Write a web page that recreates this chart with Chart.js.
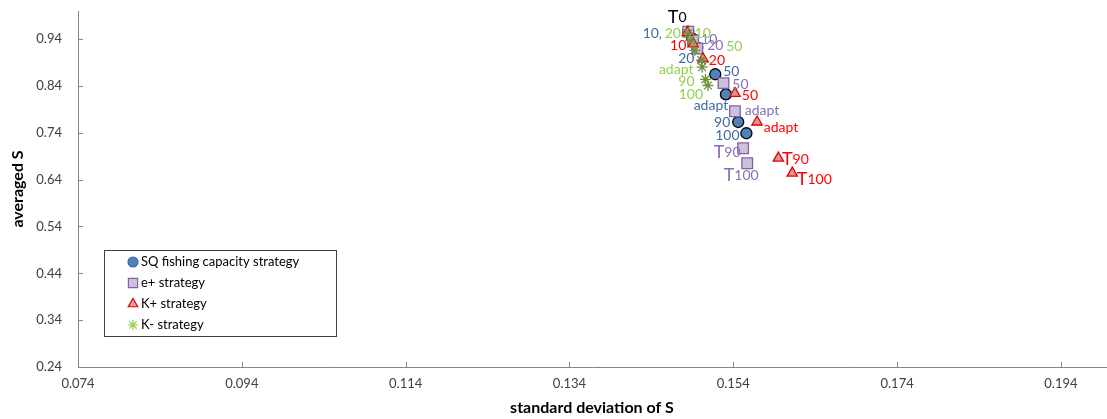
<!DOCTYPE html>
<html>
<head>
<meta charset="utf-8">
<script src="https://cdn.jsdelivr.net/npm/chart.js@4.4.1/dist/chart.umd.min.js"></script>
<style>
  html, body { margin: 0; padding: 0; background: #fff; }
  canvas { display: block; }
</style>
</head>
<body>
<canvas id="c" width="1107" height="419"></canvas>
<script>
// ---- Data ----
const xTickValues = [0.074, 0.094, 0.114, 0.134, 0.154, 0.174, 0.194];
const xTickLabels = ['0.074', '0.094', '0.114', '0.134', '0.154', '0.174', '0.194'];
const yTickValues = [0.24, 0.34, 0.44, 0.54, 0.64, 0.74, 0.84, 0.94];
const yTickLabels = ['0.24', '0.34', '0.44', '0.54', '0.64', '0.74', '0.84', '0.94'];

const seriesNames = ['SQ fishing capacity strategy', 'e+ strategy', 'K+ strategy', 'K- strategy'];

// order of points: T0, 10, 20, 50, adapt, 90, 100
const sqX = [0.1485, 0.1490, 0.1496, 0.1518, 0.1531, 0.1546, 0.1556];
const sqY = [0.956, 0.941, 0.922, 0.865, 0.822, 0.763, 0.739];
const sqLabels = ['T0', '10,', '20', '50', 'adapt', '90', '100'];

const ePlusX = [0.1485, 0.1491, 0.1496, 0.1528, 0.1542, 0.1552, 0.1557];
const ePlusY = [0.956, 0.937, 0.920, 0.846, 0.786, 0.707, 0.675];
const ePlusLabels = ['', '10', '20', '50', 'adapt', 'T90', 'T100'];

const kPlusX = [0.1484, 0.1491, 0.1503, 0.1542, 0.1569, 0.1595, 0.1612];
const kPlusY = [0.954, 0.930, 0.898, 0.824, 0.763, 0.686, 0.654];
const kPlusLabels = ['', '10', '20', '50', 'adapt', 'T90', 'T100'];

const kMinusX = [0.1485, 0.1488, 0.1493, 0.1501, 0.1502, 0.1506, 0.1509];
const kMinusY = [0.952, 0.937, 0.916, 0.895, 0.880, 0.854, 0.841];
const kMinusLabels = ['', '10', '20', '50', 'adapt', '90', '100'];

// ---- Styles ----
const labelColors = ['#3f6aa3', '#8a6db8', '#ff0000', '#92d050'];
const labelOffsets = [
  [[-11, -15], [-40, -6], [-11, 10], [16, -3], [-15, 11], [-16, 0], [-19, 2]],
  [[0, 0], [16, -2], [18, -3], [17, 1], [27, -1], [-16, 4], [-6, 12]],
  [[0, 0], [-15, 1], [14, 1], [15, 2], [24, 5], [17, 1], [22, 6]],
  [[0, 0], [12, -8], [-22, -17], [33, -14], [-26, 2], [-19, 2], [-17, 9]]
];

function pts(xs, ys) { return xs.map((x, i) => ({ x: x, y: ys[i] })); }
const allLabels = [sqLabels, ePlusLabels, kPlusLabels, kMinusLabels];

const datasets = [
  { label: seriesNames[0], data: pts(sqX, sqY), pointStyle: 'circle', pointRadius: 5.5,
    backgroundColor: '#4f81bd', borderColor: '#000000', borderWidth: 1.3, order: 4 },
  { label: seriesNames[1], data: pts(ePlusX, ePlusY), pointStyle: 'rect', pointRadius: 7.5,
    backgroundColor: '#ccc0da', borderColor: '#8064a2', borderWidth: 1.3, order: 3 },
  { label: seriesNames[2], data: pts(kPlusX, kPlusY), pointStyle: 'triangle', pointRadius: 6,
    backgroundColor: '#d99694', borderColor: '#e00000', borderWidth: 1.3, order: 2 },
  { label: seriesNames[3], data: pts(kMinusX, kMinusY), pointStyle: 'star', pointRadius: 5.5,
    backgroundColor: '#6f8f3a', borderColor: '#6f8f3a', borderWidth: 1.3, order: 1 }
];

const FONT = 'Lato, "Open Sans", sans-serif';

function drawLabel(c, txt, cx, cy, color) {
  c.save();
  c.fillStyle = color;
  c.textBaseline = 'alphabetic';
  c.textAlign = 'left';
  let big = '', rest = txt;
  if (txt.charAt(0) === 'T') { big = 'T'; rest = txt.slice(1); }
  c.font = '18px ' + FONT;
  const wb = big ? c.measureText(big).width : 0;
  c.font = '14px ' + FONT;
  const wr = c.measureText(rest).width;
  let x = cx - (wb + wr) / 2;
  const base = cy + 5;
  if (big) {
    c.font = '18px ' + FONT;
    c.fillText(big, x, base + 1);
    x += wb;
  }
  c.font = '14px ' + FONT;
  c.fillText(rest, x, base);
  c.restore();
}

const labelPlugin = {
  id: 'pointLabels',
  afterDatasetsDraw(chart) {
    const c = chart.ctx;
    chart.data.datasets.forEach((ds, di) => {
      const meta = chart.getDatasetMeta(di);
      meta.data.forEach((el, i) => {
        const txt = allLabels[di][i];
        if (!txt) return;
        const off = labelOffsets[di][i];
        const col = txt === 'T0' ? '#000000' : labelColors[di];
        drawLabel(c, txt, el.x + off[0], el.y + off[1], col);
      });
    });
  }
};

const tickMarkPlugin = {
  id: 'innerTicks',
  afterDraw(chart) {
    const c = chart.ctx;
    const xs = chart.scales.x, ys = chart.scales.y;
    const a = chart.chartArea;
    c.save();
    c.strokeStyle = '#868686';
    c.lineWidth = 1;
    c.beginPath();
    xTickValues.forEach(v => {
      const px = Math.round(xs.getPixelForValue(v)) + 0.5;
      c.moveTo(px, a.bottom); c.lineTo(px, a.bottom - 5);
    });
    yTickValues.forEach(v => {
      const py = Math.round(ys.getPixelForValue(v)) + 0.5;
      c.moveTo(a.left, py); c.lineTo(a.left + 5, py);
    });
    c.stroke();
    c.restore();
  }
};

const legendPlugin = {
  id: 'boxLegend',
  afterDraw(chart) {
    const c = chart.ctx;
    c.save();
    c.fillStyle = '#ffffff';
    c.fillRect(104, 250, 232, 86);
    c.strokeStyle = '#404040';
    c.lineWidth = 1;
    c.strokeRect(104.5, 250.5, 232, 86);
    const rows = [262, 283, 304, 325];
    const styles = [
      { ps: 'circle', r: 5, fill: '#4f81bd', stroke: '#3f6aa3' },
      { ps: 'rect', r: 6.5, fill: '#ccc0da', stroke: '#8064a2' },
      { ps: 'triangle', r: 5.5, fill: '#e6a0a0', stroke: '#e00000' },
      { ps: 'star', r: 5, fill: '#92d050', stroke: '#92d050' }
    ];
    seriesNames.forEach((name, i) => {
      const s = styles[i];
      c.fillStyle = s.fill; c.strokeStyle = s.stroke; c.lineWidth = 1.2;
      Chart.helpers.drawPoint(c, { pointStyle: s.ps, radius: s.r, borderWidth: 1.2, rotation: 0 }, 133, rows[i]);
      c.fillStyle = '#000000';
      c.font = '13px ' + FONT;
      c.textBaseline = 'middle';
      c.textAlign = 'left';
      c.fillText(name, 141, rows[i]);
    });
    c.restore();
  }
};

new Chart(document.getElementById('c'), {
  type: 'scatter',
  data: { datasets: datasets },
  plugins: [labelPlugin, tickMarkPlugin, legendPlugin],
  options: {
    responsive: false,
    animation: false,
    layout: { autoPadding: false, padding: { top: 11, right: 1, left: 0, bottom: 0 } },
    plugins: { legend: { display: false }, tooltip: { enabled: false } },
    scales: {
      x: {
        type: 'linear', min: 0.074, max: 0.1995,
        afterFit(s) { s.height = 52; s.paddingLeft = 0; s.paddingRight = 0; },
        afterBuildTicks(s) { s.ticks = xTickValues.map(v => ({ value: v })); },
        ticks: {
          callback: (v, i) => xTickLabels[i],
          font: { family: FONT, size: 13 }, color: '#404040',
          padding: 9, autoSkip: false, maxRotation: 0
        },
        grid: { drawOnChartArea: false, drawTicks: false },
        border: { color: '#868686', width: 1 },
        title: {
          display: true, text: 'standard deviation of S',
          font: { family: FONT, size: 16, weight: 'bold' }, color: '#000000',
          padding: { top: 0, bottom: 2 }
        }
      },
      y: {
        type: 'linear', min: 0.24, max: 1.0,
        afterFit(s) { s.width = 78; s.paddingTop = 0; s.paddingBottom = 0; },
        afterBuildTicks(s) { s.ticks = yTickValues.map(v => ({ value: v })); },
        ticks: {
          callback: (v, i) => yTickLabels[i],
          font: { family: FONT, size: 13 }, color: '#404040',
          padding: 16, autoSkip: false
        },
        grid: { drawOnChartArea: false, drawTicks: false },
        border: { color: '#868686', width: 1 },
        title: {
          display: true, text: 'averaged S',
          font: { family: FONT, size: 16, weight: 'bold' }, color: '#000000',
          padding: { top: 8, bottom: 0 }
        }
      }
    }
  }
});
</script>
</body>
</html>
